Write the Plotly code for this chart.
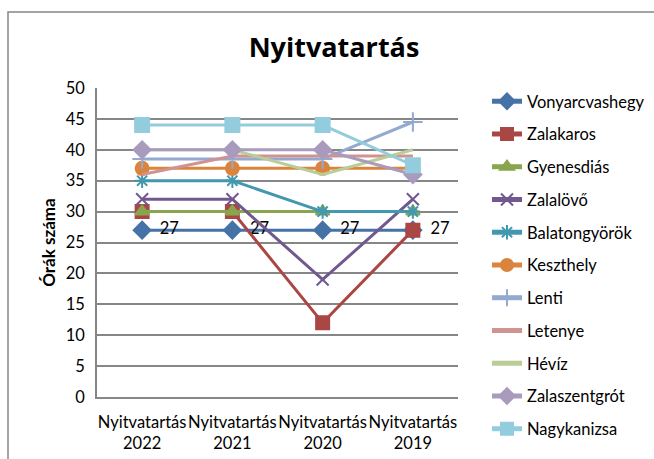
import plotly.graph_objects as go

categories = ["Nyitvatartás<br>2022", "Nyitvatartás<br>2021", "Nyitvatartás<br>2020", "Nyitvatartás<br>2019"]

vonyarcvashegy = [27, 27, 27, 27]
zalakaros = [30, 30, 12, 27]
gyenesdias = [30, 30, 30, 30]
zalalovo = [32, 32, 19, 32]
balatongyorok = [35, 35, 30, 30]
keszthely = [37, 37, 37, 37]
lenti = [38.5, 38.5, 38.5, 44.5]
letenye = [36, 39, 39, 39]
heviz = [40, 40, 36, 40]
zalaszentgrot = [40, 40, 40, 36]
nagykanizsa = [44, 44, 44, 37.5]

series = [
    ("Vonyarcvashegy", vonyarcvashegy, "#4572A7", "diamond", 13),
    ("Zalakaros", zalakaros, "#AA4643", "square", 13),
    ("Gyenesdiás", gyenesdias, "#89A54E", "triangle-up", 12),
    ("Zalalövő", zalalovo, "#71588F", "x-thin-open", 12),
    ("Balatongyörök", balatongyorok, "#4198AF", "asterisk-open", 12),
    ("Keszthely", keszthely, "#DB843D", "circle", 13),
    ("Lenti", lenti, "#93A9CF", "cross-thin-open", 14),
    ("Letenye", letenye, "#D19392", None, 0),
    ("Hévíz", heviz, "#B9CD96", None, 0),
    ("Zalaszentgrót", zalaszentgrot, "#A99BBD", "diamond", 13),
    ("Nagykanizsa", nagykanizsa, "#93CDDD", "square", 14),
]

FONT = "Lato, Open Sans, sans-serif"
FS = 16.5

fig = go.Figure()
for i, (name, vals, color, sym, size) in enumerate(series):
    kw = {}
    if sym is None:
        mode = "lines"
    else:
        mode = "lines+markers"
        kw["marker"] = dict(symbol=sym, size=size, color=color,
                            line=dict(color=color, width=2))
    if name == "Vonyarcvashegy":
        mode += "+text"
        kw["text"] = ["  " + str(v) for v in vals]
        kw["textposition"] = "middle right"
        kw["textfont"] = dict(family=FONT, size=FS, color="#000000")
    fig.add_trace(go.Scatter(
        x=categories, y=vals, name=name, mode=mode,
        line=dict(color=color, width=3),
        legendgroup=f"g{i}", cliponaxis=False, **kw))

fig.update_layout(
    template="none",
    width=654, height=459,
    margin=dict(l=97, r=196, t=88, b=62),
    paper_bgcolor="white", plot_bgcolor="white",
    font=dict(family=FONT, size=FS, color="#000000"),
    title=dict(text="<b>Nyitvatartás</b>", x=334 / 654, xanchor="center", xref="container",
               y=1 - 48 / 459, yanchor="middle", yref="container",
               font=dict(family="Open Sans, sans-serif", size=27, color="#000000")),
    showlegend=True,
    legend=dict(xref="container", x=487 / 654, xanchor="left",
                yref="container", y=1 - 84 / 459, yanchor="top", maxheight=420,
                font=dict(family=FONT, size=16.5, color="#000000"),
                itemsizing="constant",
                tracegroupgap=8.3, bgcolor="rgba(0,0,0,0)", borderwidth=0),
    xaxis=dict(type="category", range=[-0.5, 3.5], showgrid=False, automargin=False,
               showline=True, linecolor="#868686", linewidth=1.5, tickangle=0,
               ticklabelstandoff=9,
               ticks="", tickfont=dict(family=FONT, size=FS), fixedrange=True),
    yaxis=dict(range=[0, 50], dtick=5, showgrid=True, gridcolor="#868686", gridwidth=1.5,
               showline=True, linecolor="#868686", linewidth=1.5, zeroline=False,
               automargin=False, ticks="", tickfont=dict(family=FONT, size=FS),
               ticklabelstandoff=7, fixedrange=True,
               title=dict(text="<b>Órák száma</b>", font=dict(family=FONT, size=17), standoff=6)),
    shapes=[dict(type="rect", xref="paper", yref="paper",
                 x0=(8 - 97) / 361, x1=(700 - 97) / 361,
                 y0=(397 - 500) / 309, y1=(397 - 12) / 309,
                 line=dict(color="#868686", width=1.5), layer="below")],
)

fig.write_html("out.html", config={"displayModeBar": False},
               post_script="document.body.style.margin='0';document.body.style.padding='0';")
